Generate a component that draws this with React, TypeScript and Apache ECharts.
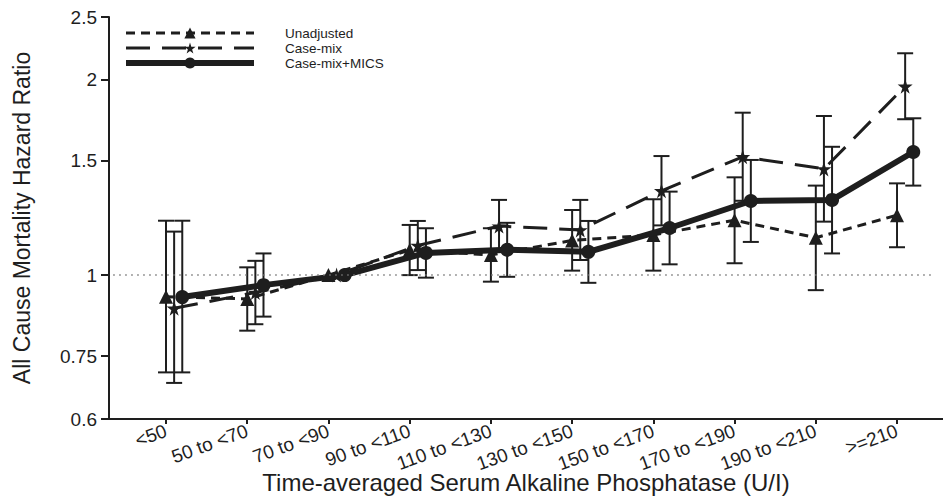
import React, { useEffect, useRef } from "react";
import * as echarts from "echarts";

const categories = ["<50", "50 to <70", "70 to <90", "90 to <110", "110 to <130", "130 to <150", "150 to <170", "170 to <190", "190 to <210", ">=210"];

const unadjHR = [0.926, 0.919, 1, 1.093, 1.074, 1.131, 1.153, 1.215, 1.142, 1.237];
const unadjLo = [0.708, 0.821, null, 1.0, 0.977, 1.016, 1.016, 1.043, 0.948, 1.104];
const unadjHi = [1.213, 1.028, null, 1.195, 1.181, 1.26, 1.309, 1.415, 1.374, 1.385];

const caseHR = [0.889, 0.94, 1, 1.111, 1.19, 1.174, 1.349, 1.522, 1.458, 1.955];
const caseLo = [0.682, 0.84, null, 1.018, 1.085, 1.055, 1.193, 1.302, 1.209, 1.739];
const caseHi = [1.167, 1.052, null, 1.212, 1.306, 1.306, 1.526, 1.78, 1.759, 2.198];

const micsHR = [0.925, 0.965, 1, 1.082, 1.094, 1.086, 1.182, 1.301, 1.306, 1.548];
const micsLo = [0.708, 0.863, null, 0.991, 0.994, 0.973, 1.039, 1.125, 1.08, 1.374];
const micsHi = [1.213, 1.08, null, 1.181, 1.204, 1.212, 1.345, 1.505, 1.577, 1.745];

const yTicks = [0.6, 0.75, 1, 1.5, 2, 2.5];
const xTicks = categories.map((_, i) => i);

const FONT = "'Liberation Sans', Arial, sans-serif";
const INK = "#1e1e1e";
const STAR = "path://M50,0 L61,35 L98,35 L68,57 L79,91 L50,70 L21,91 L32,57 L2,35 L39,35 Z";

const DASH_U = [9, 6];
const DASH_C = [24, 12];

function points(hr: number[], off: number) {
  return hr.map((v, i) => [i + off, v]);
}
function bars(lo: (number | null)[], hi: (number | null)[], off: number) {
  const out: number[][] = [];
  lo.forEach((l, i) => {
    const h = hi[i];
    if (l != null && h != null) out.push([i + off, l, h]);
  });
  return out;
}

function errorBarSeries(name: string, data: number[][]) {
  return {
    name,
    type: "custom",
    z: 1,
    silent: true,
    encode: { x: 0, y: [1, 2] },
    data,
    renderItem: (_p: any, api: any) => {
      const x = api.value(0);
      const lo = api.coord([x, api.value(1)]);
      const hi = api.coord([x, api.value(2)]);
      const w = 8;
      const style = { stroke: INK, lineWidth: 2 };
      return {
        type: "group",
        children: [
          { type: "line", shape: { x1: lo[0], y1: lo[1], x2: hi[0], y2: hi[1] }, style },
          { type: "line", shape: { x1: lo[0] - w, y1: lo[1], x2: lo[0] + w, y2: lo[1] }, style },
          { type: "line", shape: { x1: hi[0] - w, y1: hi[1], x2: hi[0] + w, y2: hi[1] }, style },
        ],
      };
    },
  };
}

export default function App() {
  const ref = useRef<HTMLDivElement>(null);
  useEffect(() => {
    if (!ref.current) return;
    const chart = echarts.init(ref.current, undefined, { renderer: "svg" });
    const offs = [0, 0.1, 0.2];
    chart.setOption({
      animation: false,
      backgroundColor: "#ffffff",
      textStyle: { fontFamily: FONT, color: INK },
      grid: { left: 109, right: 0, top: 17, bottom: 80, containLabel: false, outerBoundsMode: "none" },
      legend: {
        left: 118,
        top: 21,
        orient: "vertical",
        itemWidth: 128,
        itemHeight: 14,
        itemGap: 1,
        data: [
          { name: "Unadjusted", lineStyle: { width: 3, type: DASH_U, color: INK }, itemStyle: { color: INK } },
          { name: "Case-mix", lineStyle: { width: 3, type: DASH_C, color: INK }, itemStyle: { color: INK } },
          { name: "Case-mix+MICS", lineStyle: { width: 6, type: "solid", color: INK }, itemStyle: { color: INK } },
        ],
        textStyle: { fontSize: 13.5, color: INK, fontFamily: FONT, padding: [0, 0, 0, 26] },
      },
      xAxis: {
        type: "value",
        min: -0.702,
        max: 9.566,
        splitLine: { show: false },
        axisLine: { show: true, onZero: false, lineStyle: { color: INK, width: 2 } },
        axisTick: { show: true, length: 5, lineStyle: { color: INK, width: 2 }, customValues: xTicks },
        axisLabel: {
          customValues: xTicks,
          rotate: 20,
          margin: 11,
          fontSize: 19,
          color: INK,
          fontFamily: FONT,
          formatter: (v: number) => categories[Math.round(v)] ?? "",
        },
        name: "Time-averaged Serum Alkaline Phosphatase (U/I)",
        nameLocation: "middle",
        nameMoveOverlap: false,
        nameGap: 63,
        nameTextStyle: { fontSize: 24, color: INK, fontFamily: FONT, verticalAlign: "middle" },
      },
      yAxis: {
        type: "log",
        min: 0.6,
        max: 2.5,
        splitLine: { show: false },
        axisLine: { show: true, onZero: false, lineStyle: { color: INK, width: 2 } },
        axisTick: { show: true, length: 8, lineStyle: { color: INK, width: 2 }, customValues: yTicks },
        axisLabel: {
          customValues: yTicks,
          margin: 12,
          fontSize: 19,
          color: INK,
          fontFamily: FONT,
          formatter: (v: number) => String(Math.round(v * 100) / 100),
        },
        name: "All Cause Mortality Hazard Ratio",
        nameLocation: "middle",
        nameMoveOverlap: false,
        nameGap: 87,
        nameTextStyle: { fontSize: 23, color: INK, fontFamily: FONT, verticalAlign: "middle" },
      },
      series: [
        errorBarSeries("eb-u", bars(unadjLo, unadjHi, offs[0])),
        errorBarSeries("eb-c", bars(caseLo, caseHi, offs[1])),
        errorBarSeries("eb-m", bars(micsLo, micsHi, offs[2])),
        {
          name: "Unadjusted",
          type: "line",
          z: 3,
          data: points(unadjHR, offs[0]),
          symbol: "triangle",
          symbolSize: 14,
          itemStyle: { color: INK },
          lineStyle: { color: INK, width: 3, type: DASH_U },
          markLine: {
            silent: true,
            symbol: "none",
            label: { show: false },
            lineStyle: { color: "#777", width: 1.5, type: [1.5, 4.5] },
            data: [[{ coord: [-0.65, 1] }, { coord: [9.45, 1] }]],
          },
        },
        {
          name: "Case-mix",
          type: "line",
          z: 3,
          data: points(caseHR, offs[1]),
          symbol: STAR,
          symbolSize: 15,
          itemStyle: { color: INK },
          lineStyle: { color: INK, width: 3, type: DASH_C },
        },
        {
          name: "Case-mix+MICS",
          type: "line",
          z: 4,
          data: points(micsHR, offs[2]),
          symbol: "circle",
          symbolSize: 14,
          itemStyle: { color: INK },
          lineStyle: { color: INK, width: 6 },
        },
      ],
    });
    return () => chart.dispose();
  }, []);
  return <div ref={ref} style={{ position: "fixed", left: 0, top: 0, width: 943, height: 499 }} />;
}
